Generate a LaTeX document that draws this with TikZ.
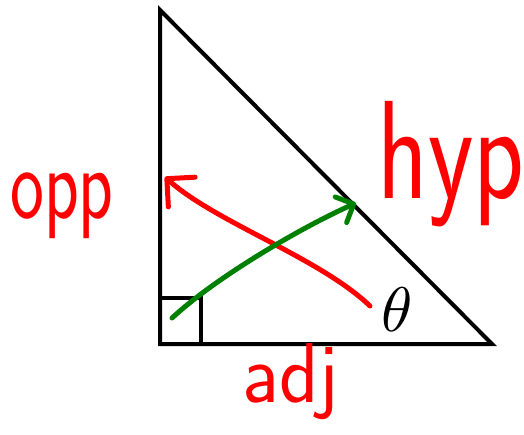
\documentclass[tikz,border=0pt]{standalone}
\usetikzlibrary{arrows.meta}
\definecolor{penred}{HTML}{FF0000}
\definecolor{pengreen}{HTML}{008000}

\begin{document}
\begin{tikzpicture}[x=1pt,y=-1pt,every node/.style={inner sep=0pt},
    scrawl/.style={text=penred,font=\sffamily,anchor=base west},
    pen/.style={line width=5pt,line cap=round,line join=round}]
    \useasboundingbox (0,0) rectangle (524,434);
    % right triangle
    \coordinate (top) at (160,10);
    \coordinate (corner) at (160,344);
    \coordinate (tipright) at (492,344);
    \draw[line width=4pt] (top) -- (corner) -- (tipright) -- cycle;
    \draw[line width=3.5pt] (corner) rectangle ++(41,-46);
    \node (theta) at (397,310) {\scalebox{6.3}{$\theta$}};
    % handwritten side names
    \node[scrawl] (opp) at (10,218) {\fontsize{90}{90}\selectfont\scalebox{0.8}[1.15]{opp}};
    \node[scrawl] (hyp) at (377,198) {\fontsize{100}{100}\selectfont\scalebox{1.05}[1.4]{hyp}};
    \node[scrawl] (adj) at (242,402) {\fontsize{85}{85}\selectfont\scalebox{0.96}[1]{adj}};
    % arrows from the angle
    \coordinate (redtail) at (370,306);
    \coordinate (redtip) at (165,177);
    \draw[pen,penred,-{Straight Barb[round,length=20pt,width=40pt]}]
      (redtail) .. controls (320,258) and (215,222) .. (redtip);
    \coordinate (greentail) at (172,318);
    \coordinate (greentip) at (356,203);
    \draw[pen,pengreen,-{Straight Barb[round,length=14pt,width=28pt]}]
      (greentail) .. controls (215,278) and (300,228) .. (greentip);
\end{tikzpicture}
\end{document}
